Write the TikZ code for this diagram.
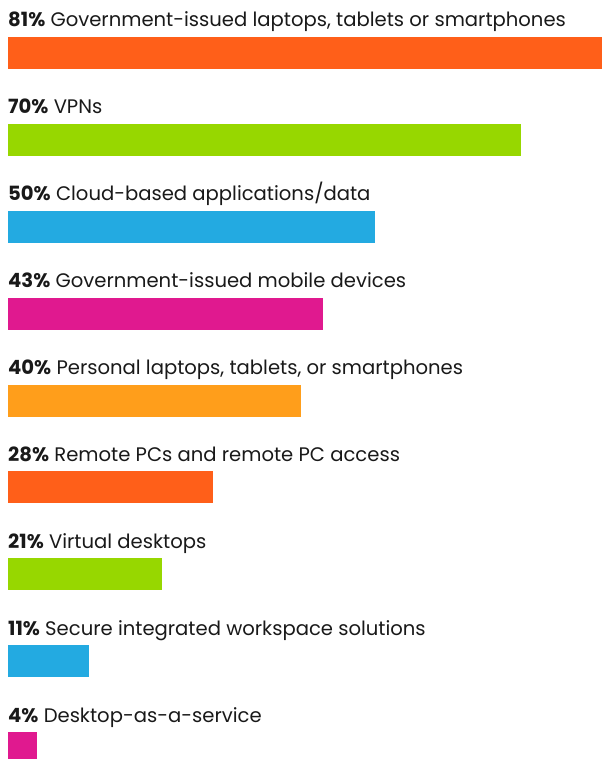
\documentclass[tikz,border=0pt]{standalone}
\usepackage{fontspec}
\setmainfont{Poppins}
\usepackage{xcolor}
\usetikzlibrary{positioning, calc}

\definecolor{barorange}{HTML}{FF5F19}
\definecolor{bargreen}{HTML}{97D700}
\definecolor{barblue}{HTML}{23AAE1}
\definecolor{barpink}{HTML}{E0198F}
\definecolor{barlight}{HTML}{FF9E1B}

\tikzset{
  barlabel/.style={anchor=base west, inner sep=0pt, font=\fontsize{19.6}{22}\selectfont, text=black!90},
}

\begin{document}
\begin{tikzpicture}[x=1pt, y=-1pt]
  \useasboundingbox (0, 0) rectangle (602, 759);

  \foreach \i/\p/\c/\t in {
      0/81/barorange/{Government-issued laptops, tablets or smartphones},
      1/70/bargreen/{VPNs},
      2/50/barblue/{Cloud-based applications/data},
      3/43/barpink/{Government-issued mobile devices},
      4/40/barlight/{Personal laptops, tablets, or smartphones},
      5/28/barorange/{Remote PCs and remote PC access},
      6/21/bargreen/{Virtual desktops},
      7/11/barblue/{Secure integrated workspace solutions},
      8/4/barpink/{Desktop-as-a-service}}
  {
    \pgfmathsetmacro{\bartop}{37 + 86.875*\i}
    \pgfmathsetmacro{\barright}{8 + 7.333*\p}
    \fill [\c] (8, \bartop) rectangle (\barright, \bartop + 32);
    \node [barlabel] (label\i) at (8, \bartop - 10) {\textbf{\p\%} \t};
  }
\end{tikzpicture}
\end{document}
